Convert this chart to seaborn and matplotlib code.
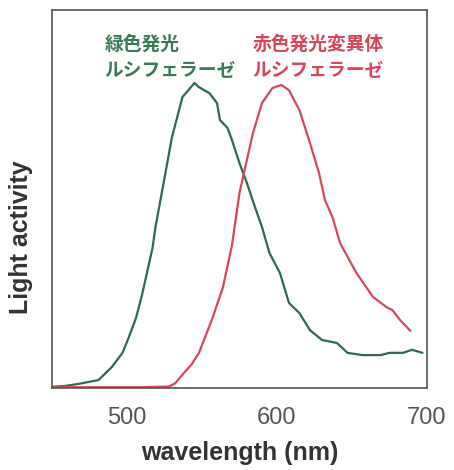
import numpy as np
import pandas as pd
import matplotlib
matplotlib.use("Agg")
import matplotlib.pyplot as plt
import seaborn as sns

# spectra (wavelength nm, relative light activity)
green_nm = [449, 458, 468, 481, 490, 497, 501, 506, 510, 513, 517, 519, 526, 530,
            537, 545, 548, 555, 560, 562, 567, 570, 575, 580, 586, 590, 595, 602,
            608, 615, 622, 630, 640, 647, 657, 669, 675, 684, 690, 697]
green_val = [0.003, 0.005, 0.011, 0.021, 0.056, 0.093, 0.132, 0.185, 0.246, 0.299,
             0.370, 0.426, 0.577, 0.664, 0.770, 0.807, 0.796, 0.780, 0.754, 0.709,
             0.688, 0.656, 0.595, 0.542, 0.471, 0.426, 0.357, 0.304, 0.225, 0.198,
             0.153, 0.127, 0.119, 0.093, 0.087, 0.087, 0.093, 0.093, 0.101, 0.093]

red_nm = [449, 480, 510, 528, 532, 538, 543, 548, 557, 564, 570, 575, 584, 590,
          597, 603, 608, 615, 622, 628, 632, 637, 642, 653, 664, 673, 677, 682, 689]
red_val = [0.002, 0.002, 0.002, 0.004, 0.012, 0.040, 0.062, 0.093, 0.185, 0.267,
           0.378, 0.516, 0.675, 0.754, 0.794, 0.802, 0.788, 0.735, 0.648, 0.569,
           0.497, 0.452, 0.384, 0.304, 0.241, 0.214, 0.206, 0.180, 0.151]

green_label = "緑色発光\nルシフェラーゼ"
red_label = "赤色発光変異体\nルシフェラーゼ"

green_col = "#2e6b4a"
red_col = "#d9465a"

df = pd.concat([
    pd.DataFrame({"nm": green_nm, "val": green_val, "kind": "green"}),
    pd.DataFrame({"nm": red_nm, "val": red_val, "kind": "red"}),
])

sns.set_style("white")
plt.rcParams['font.family'] = ['Liberation Sans', 'DejaVu Sans']

fig = plt.figure(figsize=(4.54, 4.70), dpi=100)
ax = fig.add_axes([0.1145, 0.1745, 0.826, 0.804])

sns.lineplot(data=df, x="nm", y="val", hue="kind", palette={"green": green_col, "red": red_col},
             linewidth=1.6, legend=False, ax=ax, estimator=None, sort=False)

ax.set_xlim(450, 700)
ax.set_ylim(0, 1)
ax.set_xticks([500, 600, 700])
ax.set_xticks([550, 650], minor=True)
ax.set_yticks([])
ax.tick_params(axis='x', which='both', direction='in', length=5, width=1,
               labelsize=17, labelcolor='#555555', color='#444444', pad=14)
for s in ax.spines.values():
    s.set_color('#555555')
    s.set_linewidth(1.2)

ax.set_xlabel("wavelength (nm)", fontsize=18, fontweight='bold', color='#333333', labelpad=8)
ax.set_ylabel("Light activity", fontsize=18, fontweight='bold', color='#333333')
ax.yaxis.set_label_coords(-0.05, 0.40)

cjk = ['Noto Sans CJK JP', 'DejaVu Sans']
ax.text(0.14, 0.935, green_label, transform=ax.transAxes, ha='left', va='top',
        fontsize=13.5, fontweight='bold', color='#3a7a56', family=cjk, linespacing=1.5)
ax.text(0.535, 0.935, red_label, transform=ax.transAxes, ha='left', va='top',
        fontsize=13.5, fontweight='bold', color=red_col, family=cjk, linespacing=1.5)

fig.savefig("out.png", dpi=100)
